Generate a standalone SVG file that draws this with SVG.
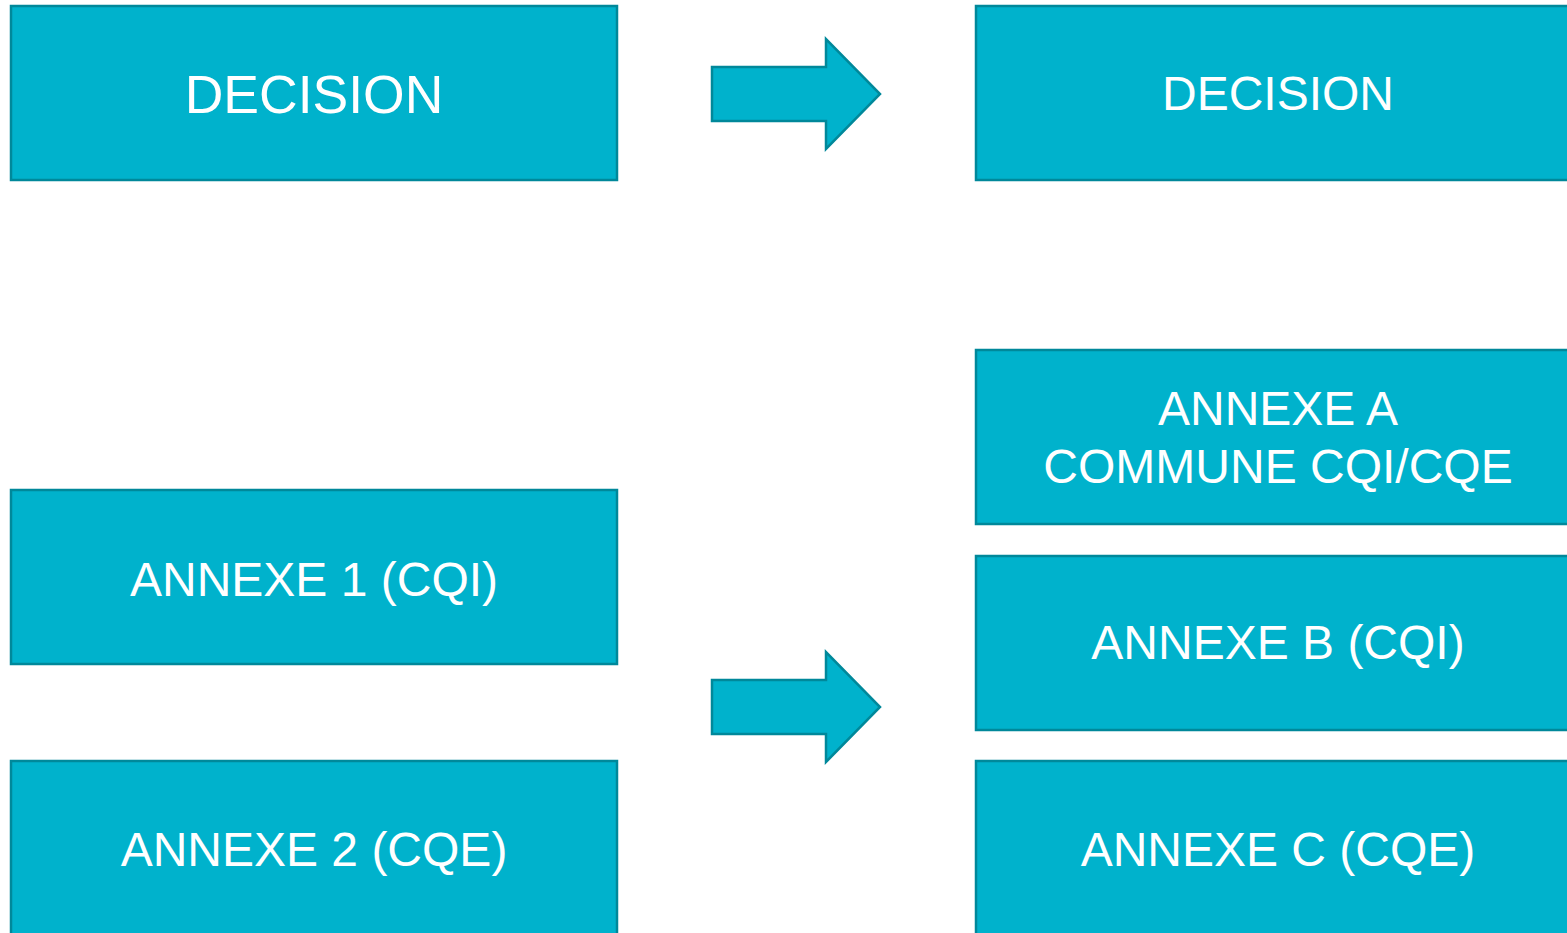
<svg xmlns="http://www.w3.org/2000/svg" width="1567" height="933" viewBox="0 0 1567 933">
  <style>
    .box { fill: #00B2CC; stroke: #00889A; stroke-width: 2.5; }
    .arrow { fill: #00B2CC; stroke: #00889A; stroke-width: 2.5; stroke-linejoin: miter; }
    .lbl { fill: #FFFFFF; font-family: "Liberation Sans", Arial, sans-serif; font-size: 48px; text-anchor: middle; }
    .big { font-size: 53.5px; }
  </style>
  <rect width="1567" height="933" fill="#FFFFFF"/>

  <!-- left column -->
  <g id="decision-old">
    <rect class="box" x="11" y="6" width="606" height="174"/>
    <text class="lbl big" x="314" y="113">DECISION</text>
  </g>
  <g id="annexe-1">
    <rect class="box" x="11" y="490" width="606" height="174"/>
    <text class="lbl" x="314" y="596">ANNEXE 1 (CQI)</text>
  </g>
  <g id="annexe-2">
    <rect class="box" x="11" y="761" width="606" height="190"/>
    <text class="lbl" x="314" y="866">ANNEXE 2 (CQE)</text>
  </g>

  <!-- right column -->
  <g id="decision-new">
    <rect class="box" x="976" y="6" width="610" height="174"/>
    <text class="lbl" x="1278" y="110">DECISION</text>
  </g>
  <g id="annexe-a">
    <rect class="box" x="976" y="350" width="610" height="174"/>
    <text class="lbl" x="1278" y="425">ANNEXE A</text>
    <text class="lbl" x="1278" y="483">COMMUNE CQI/CQE</text>
  </g>
  <g id="annexe-b">
    <rect class="box" x="976" y="556" width="610" height="174"/>
    <text class="lbl" x="1278" y="659">ANNEXE B (CQI)</text>
  </g>
  <g id="annexe-c">
    <rect class="box" x="976" y="761" width="610" height="190"/>
    <text class="lbl" x="1278" y="866">ANNEXE C (CQE)</text>
  </g>

  <!-- block arrows between the columns -->
  <g id="connectors">
    <polygon class="arrow" points="712,67 826,67 826,39 880,94 826,149 826,121 712,121"/>
    <polygon class="arrow" points="712,680 826,680 826,652 880,707 826,762 826,734 712,734"/>
  </g>
</svg>
